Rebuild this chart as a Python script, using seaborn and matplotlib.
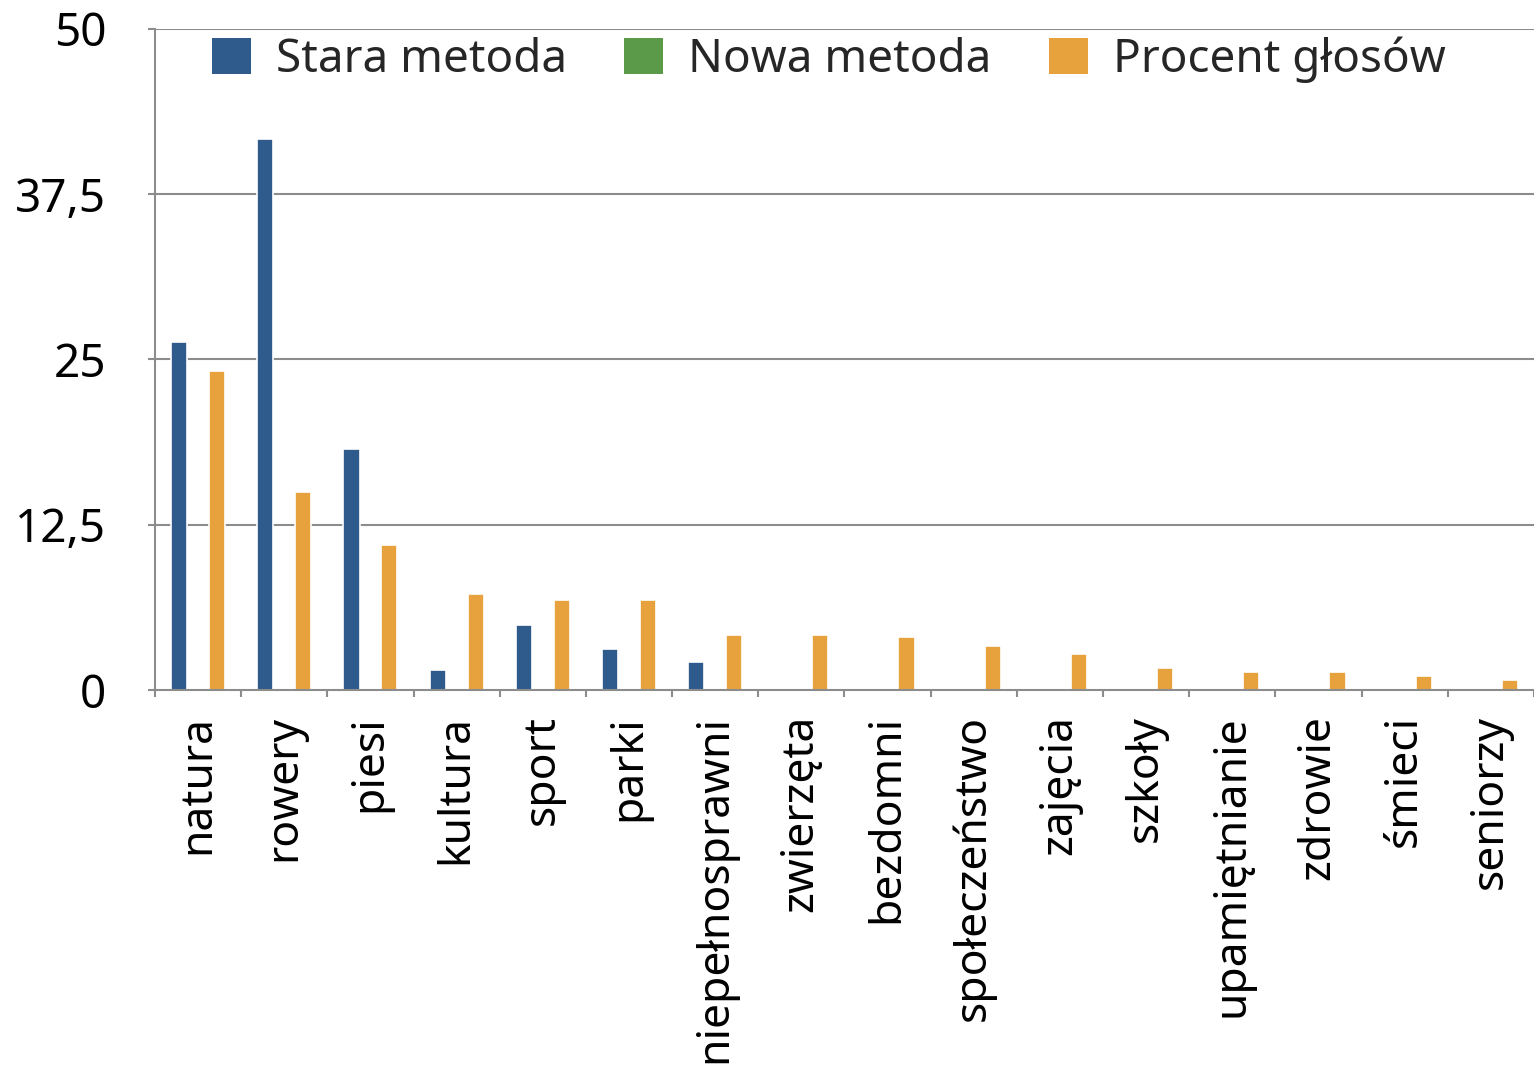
import matplotlib
matplotlib.use("Agg")
import matplotlib.pyplot as plt
import seaborn as sns
import pandas as pd
import numpy as np

categories = ["natura", "rowery", "piesi", "kultura", "sport", "parki",
              "niepełnosprawni", "zwierzęta", "bezdomni", "społeczeństwo",
              "zajęcia", "szkoły", "upamiętnianie", "zdrowie", "śmieci", "seniorzy"]
stara_metoda = [26.3, 41.7, 18.2, 1.5, 4.9, 3.1, 2.1, 0, 0, 0, 0, 0, 0, 0, 0, 0]
nowa_metoda = [0] * 16
procent_glosow = [24.1, 15.0, 11.0, 7.3, 6.8, 6.8, 4.2, 4.2, 4.0, 3.3, 2.7, 1.7, 1.4, 1.4, 1.1, 0.75]
series_names = ["Stara metoda", "Nowa metoda", "Procent głosów"]
y_ticks = [0, 12.5, 25, 37.5, 50]
y_tick_labels = ["0", "12,5", "25", "37,5", "50"]

colors = ["#2E5A8C", "#5B9A48", "#E8A23D"]
grid_color = "#8C8C8C"
FS = 33

df = pd.DataFrame({
    "kategoria": categories * 3,
    "seria": [series_names[0]] * 16 + [series_names[1]] * 16 + [series_names[2]] * 16,
    "wartosc": stara_metoda + nowa_metoda + procent_glosow,
})

sns.set_theme(style="white")
plt.rcParams["font.family"] = ["Noto Sans", "DejaVu Sans"]

fig = plt.figure(figsize=(15.34, 10.72), dpi=100)
ax = fig.add_axes([0.101, 0.3563, 0.899, 0.6167])

sns.barplot(data=df, x="kategoria", y="wartosc", hue="seria", order=categories,
            hue_order=series_names, palette=colors, width=0.66, gap=0.15,
            edgecolor="white", linewidth=1.2, saturation=1, legend=False,
            errorbar=None, ax=ax, zorder=3)

# empty bars (no value) are hidden so they leave no white outline on the axis
for p in ax.patches:
    h = p.get_height()
    if not np.isfinite(h) or h <= 0:
        p.set_visible(False)

ax.set_xlim(-0.5, len(categories) - 0.5)
ax.set_ylim(0, 50)
ax.set_yticks(y_ticks)
ax.set_yticklabels(y_tick_labels)
ax.set_xlabel("")
ax.set_ylabel("")

for y in y_ticks[1:]:
    ax.axhline(y, color=grid_color, linewidth=1.5, zorder=1)

for side in ["top", "right"]:
    ax.spines[side].set_visible(False)
for side in ["left", "bottom"]:
    ax.spines[side].set_color(grid_color)
    ax.spines[side].set_linewidth(1.5)
    ax.spines[side].set_zorder(4)

ax.tick_params(axis="y", which="major", direction="out", length=5, width=1.5,
               color=grid_color, labelsize=FS, pad=30, left=True, labelcolor="black")
ax.set_xticks(np.arange(len(categories)))
ax.set_xticklabels(categories, rotation=90, va="top", ha="center")
ax.tick_params(axis="x", which="major", length=0, labelsize=32, pad=18, labelcolor="black")
ax.set_xticks(np.arange(len(categories) + 1) - 0.5, minor=True)
ax.tick_params(axis="x", which="minor", direction="out", length=5, width=1.5,
               color=grid_color, bottom=True)

handles = [plt.Rectangle((0, 0), 1, 1, facecolor=c, edgecolor="none") for c in colors]
ax.legend(handles, series_names, loc="upper left", bbox_to_anchor=(0.138, 0.966),
          bbox_transform=fig.transFigure, ncol=3, frameon=False, fontsize=FS,
          handlelength=0.85, handleheight=0.85, handletextpad=0.55,
          columnspacing=1.25, borderpad=0, borderaxespad=0)

fig.savefig("out.png", dpi=100)
